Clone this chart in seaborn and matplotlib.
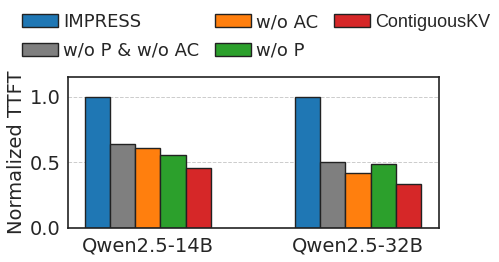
import pandas as pd
import matplotlib.pyplot as plt
import seaborn as sns

# -----------------------------
# DATA
# -----------------------------
models = ["Qwen2.5-14B", "Qwen2.5-32B"]
methods = ["IMPRESS", "w/o P & w/o AC", "w/o AC", "w/o P", "ContiguousKV"]
ttft_14b = [1.0, 0.64, 0.61, 0.557, 0.458]
ttft_32b = [1.0, 0.50, 0.418, 0.486, 0.338]
colors = ["#1f77b4", "#7f7f7f", "#ff7f0e", "#2ca02c", "#d62728"]

df = pd.DataFrame({
    "model": [models[0]] * len(methods) + [models[1]] * len(methods),
    "method": methods * 2,
    "ttft": ttft_14b + ttft_32b,
})

# -----------------------------
# STYLE
# -----------------------------
sns.set_theme(style="whitegrid")
plt.rcParams["font.family"] = ["DejaVu Sans"]

fig = plt.figure(figsize=(4.99, 2.62), dpi=100)
ax = fig.add_axes([0.136, 0.130, 0.744, 0.576])

sns.barplot(
    data=df,
    x="model",
    y="ttft",
    hue="method",
    hue_order=methods,
    palette=colors,
    width=0.6,
    edgecolor="#222222",
    linewidth=1.0,
    saturation=1,
    ax=ax,
)

ax.set_xlim(-0.38, 1.386)
ax.set_ylim(0, 1.15)
ax.set_yticks([0.0, 0.5, 1.0])
ax.set_xlabel("")
ax.set_ylabel("Normalized TTFT", fontsize=14, labelpad=3)
ax.tick_params(axis="y", labelsize=14, length=0, pad=5)
ax.tick_params(axis="x", labelsize=14, length=0, pad=6)

ax.grid(False)
ax.yaxis.grid(True, linestyle="--", color="#cccccc", linewidth=0.7)
for spine in ax.spines.values():
    spine.set_color("#222222")
    spine.set_linewidth(1.2)

handles, labels = ax.get_legend_handles_labels()
ax.get_legend().remove()
leg = fig.legend(
    handles, labels,
    loc="upper left",
    bbox_to_anchor=(0.011, 1.012),
    ncol=3,
    frameon=False,
    fontsize=13,
    handlelength=2.0,
    handletextpad=0.3,
    columnspacing=0.85,
    labelspacing=0.6,
)
# the last entry is set in a narrower sans face in the original
leg.get_texts()[-1].set_fontfamily("Liberation Sans")

fig.savefig("out.png", dpi=100)
